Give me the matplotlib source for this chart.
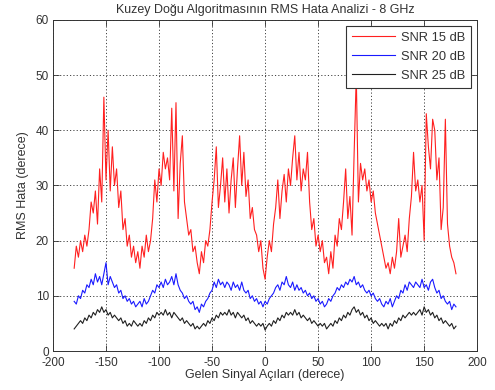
import matplotlib
matplotlib.use("Agg")
import matplotlib.pyplot as plt

plt.rcParams['font.family'] = ['Liberation Sans', 'DejaVu Sans']
plt.rcParams['axes.unicode_minus'] = False

# Incoming signal angles (degrees), 2-degree steps from -180 to 180
angles = list(range(-180, 181, 2))

rms_snr15 = [
    15, 19, 17, 20, 18, 21, 19, 22, 27, 25,
    29, 23, 33, 27, 46, 31, 40, 29, 37, 30,
    33, 26, 29, 22, 24, 19, 21, 17, 19, 16,
    18, 15, 19, 17, 21, 18, 20, 24, 31, 27,
    33, 30, 36, 33, 35, 31, 44, 29, 45, 24,
    34, 39, 27, 24, 21, 22, 18, 19, 16, 14,
    18, 16, 20, 19, 22, 27, 31, 37, 26, 30,
    35, 27, 33, 25, 31, 35, 26, 33, 39, 30,
    36, 28, 31, 24, 26, 22, 21, 18, 20, 15,
    13, 17, 20, 18, 23, 26, 31, 24, 29, 32,
    27, 33, 30, 35, 39, 31, 36, 29, 33, 31,
    36, 27, 22, 24, 19, 21, 18, 20, 16, 17,
    14, 18, 15, 21, 19, 24, 22, 27, 33, 24,
    28, 21, 36, 50, 27, 34, 31, 33, 29, 31,
    27, 29, 25, 23, 21, 19, 17, 15, 16, 14,
    17, 15, 18, 24, 17, 19, 21, 18, 24, 28,
    36, 29, 31, 27, 30, 20, 43, 37, 33, 42,
    40, 31, 35, 22, 26, 42, 23, 19, 17, 16,
    14,
]

rms_snr20 = [
    9, 8.5, 10, 9.5, 11, 10.5, 12, 11.5, 13, 12,
    14, 12.5, 13.5, 12, 14, 16, 12, 13.5, 12.5, 11.5,
    12, 10.5, 11, 9.5, 10, 9, 9.5, 8.5, 9, 8,
    8.5, 9, 8, 9.5, 8.5, 9, 10, 11, 10.5, 12,
    11.5, 12.5, 11.5, 13, 12, 12.5, 13.5, 12, 14, 12,
    11, 10.5, 9.5, 10, 9, 8.5, 9, 7.5, 8, 7,
    8.5, 8, 9, 9.5, 10.5, 11, 12.5, 11.5, 13, 12,
    12.5, 11.5, 12.5, 12, 11, 12.5, 11.5, 12, 11, 12.5,
    11, 10.5, 11, 9.5, 10, 9, 9.5, 8.5, 9, 8,
    9, 8.5, 9.5, 10, 10.5, 11.5, 12, 11, 12.5, 12,
    13.5, 12, 11.5, 12.5, 11, 12, 11, 11.5, 10.5, 11,
    10, 10.5, 9.5, 10, 9, 9.5, 8.5, 9, 8, 8.5,
    9.5, 9, 10, 10.5, 11.5, 11, 12, 11.5, 12.5, 12,
    13, 12.5, 13.5, 12, 12.5, 11.5, 12, 11, 10.5, 11,
    10, 10.5, 9.5, 9, 9.5, 8.5, 8, 9, 8.5, 9.5,
    8, 9, 10, 9.5, 11, 10.5, 12, 11, 12.5, 12,
    11.5, 12.5, 12, 11.5, 13, 11.5, 12, 11, 12.5, 13,
    11.5, 10.5, 11, 9.5, 10, 9, 8.5, 9, 7.5, 8.5,
    8,
]

rms_snr25 = [
    4, 4.5, 5, 5.5, 5, 6, 5.5, 6.5, 6, 7,
    6.5, 7.5, 7, 8, 7, 7.5, 6.5, 7, 6, 6.5,
    6, 5.5, 6, 5, 5.5, 4.5, 5, 4.5, 5.5, 5,
    4.5, 5, 4.5, 5.5, 5, 6, 5.5, 6.5, 6, 7,
    6.5, 7, 6.5, 7.5, 6.5, 7, 6, 7, 6.5, 6,
    5.5, 6, 5, 5.5, 5, 4.5, 5, 4, 4.5, 4,
    4.5, 5, 4.5, 5.5, 5, 6, 5.5, 6.5, 6, 7,
    6.5, 7, 6.5, 7.5, 6.5, 7, 6, 7, 6.5, 6,
    6.5, 5.5, 6, 5, 5.5, 5, 4.5, 5, 4.5, 5,
    3.8, 4.5, 5, 4.5, 5.5, 5, 6, 5.5, 6.5, 6,
    7, 6.5, 7, 6.5, 7.5, 6.5, 7, 6, 6.5, 6,
    5.5, 6, 5, 5.5, 5, 4.5, 5, 4.5, 5, 4,
    4.5, 5, 4.5, 5.5, 5, 6, 5.5, 6.5, 6, 7,
    6.5, 7.5, 8, 7, 7.5, 6.5, 7, 6, 6.5, 5.5,
    6, 5, 5.5, 5, 4.5, 5, 4.5, 5, 4, 5,
    4.5, 5.5, 5, 6, 5.5, 6.5, 6, 6.5, 7, 6.5,
    7, 6.5, 7, 7.5, 6.5, 8, 7, 7.5, 6.5, 7,
    6, 6.5, 5.5, 6, 5, 5.5, 5, 4.5, 5, 4,
    4.5,
]

series_labels = ['SNR 15 dB', 'SNR 20 dB', 'SNR 25 dB']
x_ticks = [-200, -150, -100, -50, 0, 50, 100, 150, 200]
y_ticks = [0, 10, 20, 30, 40, 50, 60]

text_color = '#333333'

fig = plt.figure(figsize=(4.95, 3.9), dpi=100)
ax = fig.add_axes([0.107, 0.1, 0.857, 0.849])

ax.plot(angles, rms_snr15, color='#ff2020', lw=0.8, label=series_labels[0])
ax.plot(angles, rms_snr20, color='#1a1aff', lw=0.8, label=series_labels[1])
ax.plot(angles, rms_snr25, color='#202020', lw=0.8, label=series_labels[2])

ax.set_xlim(-200, 200)
ax.set_ylim(0, 60)
ax.set_xticks(x_ticks)
ax.set_yticks(y_ticks)
ax.tick_params(direction='in', top=True, right=True, labelsize=8.5, length=4,
               width=0.6, color=text_color, labelcolor=text_color, pad=3)
ax.tick_params(axis='x', pad=4.5)
ax.grid(True, linestyle=(0, (1.2, 2.2)), color='#444444', lw=0.7)
for s in ax.spines.values():
    s.set_color(text_color)
    s.set_linewidth(0.7)

ax.set_title('Kuzey Doğu Algoritmasının RMS Hata Analizi - 8 GHz', fontsize=9,
             pad=5, color=text_color)
ax.set_xlabel('Gelen Sinyal Açıları (derece)', fontsize=9, labelpad=0, color=text_color)
ax.set_ylabel('RMS Hata (derece)', fontsize=9, labelpad=5, color=text_color)

leg = ax.legend(loc='upper right', fontsize=9.3, handlelength=3.3, fancybox=False,
                framealpha=1, edgecolor=text_color, borderaxespad=0.45,
                labelspacing=0.55, handletextpad=0.5, borderpad=0.45)
leg.get_frame().set_linewidth(0.8)
for t in leg.get_texts():
    t.set_color(text_color)

fig.savefig('out.png', dpi=100)
